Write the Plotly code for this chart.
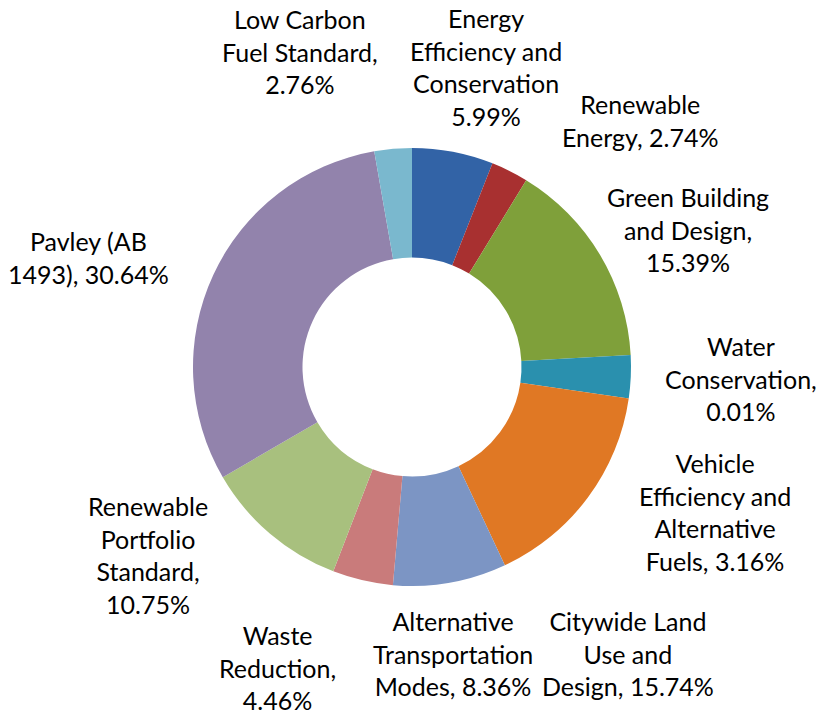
import plotly.graph_objects as go

# Share of GHG reduction by measure (percent)
categories = [
    "Energy Efficiency and Conservation",
    "Renewable Energy",
    "Green Building and Design",
    "Water Conservation",
    "Vehicle Efficiency and Alternative Fuels",
    "Citywide Land Use and Design",
    "Alternative Transportation Modes",
    "Waste Reduction",
    "Renewable Portfolio Standard",
    "Pavley (AB 1493)",
    "Low Carbon Fuel Standard",
]
values = [5.99, 2.74, 15.39, 0.01, 3.16, 15.74, 8.36, 4.46, 10.75, 30.64, 2.76]

# Wrapped data-label text; {v} receives the slice value
label_templates = [
    "Energy<br>Efficiency and<br>Conservation<br>{v}%",
    "Renewable<br>Energy, {v}%",
    "Green Building<br>and Design,<br>{v}%",
    "Water<br>Conservation,<br>{v}%",
    "Vehicle<br>Efficiency and<br>Alternative<br>Fuels, {v}%",
    "Citywide Land<br>Use and<br>Design, {v}%",
    "Alternative<br>Transportation<br>Modes, {v}%",
    "Waste<br>Reduction,<br>{v}%",
    "Renewable<br>Portfolio<br>Standard,<br>{v}%",
    "Pavley (AB<br>1493), {v}%",
    "Low Carbon<br>Fuel Standard,<br>{v}%",
]

colors = [
    "#3263A6", "#A83030", "#7FA03A", "#8064A2", "#2A90AE", "#E07824",
    "#7C95C4", "#C97B7B", "#A8C07E", "#9283AC", "#7AB8CE",
]

W, H = 819, 714
# label block centres, in pixels from the top-left corner
label_pos = [
    (486, 67), (640, 120), (688, 230), (741, 378), (715, 512),
    (628, 653), (453, 653), (277, 667), (148, 555), (88, 257), (300, 52),
]

cx, cy, r = 412, 367, 219

fig = go.Figure(
    go.Pie(
        labels=categories,
        values=values,
        hole=0.5,
        sort=False,
        direction="clockwise",
        rotation=0,
        marker=dict(colors=colors, line=dict(width=0)),
        textinfo="none",
        hoverinfo="label+percent",
        showlegend=False,
        domain=dict(
            x=[(cx - r) / W, (cx + r) / W],
            y=[(H - cy - r) / H, (H - cy + r) / H],
        ),
    )
)

for tpl, val, (px, py) in zip(label_templates, values, label_pos):
    fig.add_annotation(
        x=px / W, y=1 - py / H, xref="paper", yref="paper",
        xanchor="center", yanchor="middle", align="center",
        text=tpl.format(v=f"{val:.2f}"), showarrow=False,
        font=dict(family="Lato", size=25, color="#000000"),
    )

fig.update_layout(
    width=W, height=H,
    margin=dict(l=0, r=0, t=0, b=0),
    paper_bgcolor="white", plot_bgcolor="white",
)

fig.write_html("out.html")
